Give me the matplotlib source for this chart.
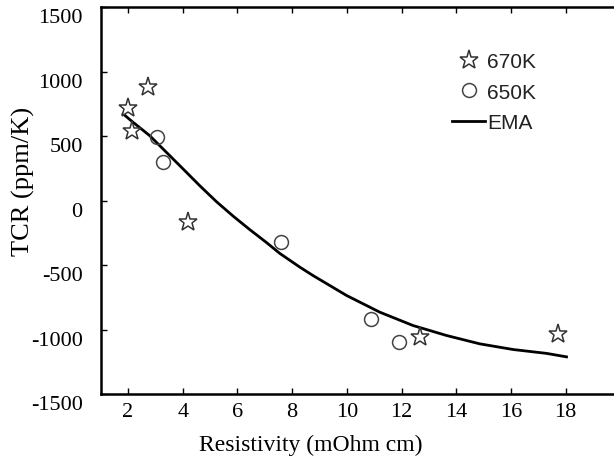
import matplotlib
matplotlib.use("Agg")
import matplotlib.pyplot as plt
import matplotlib.transforms as mtransforms

# 670K samples (stars)
rho_670 = [1.98, 2.15, 2.73, 4.18, 12.69, 17.72]
tcr_670 = [718, 538, 879, -167, -1059, -1033]

# 650K samples (circles)
rho_650 = [3.06, 3.26, 7.58, 10.87, 11.90]
tcr_650 = [496, 298, -322, -917, -1097]

# EMA model curve
rho_ema = [1.82, 2.18, 2.79, 3.40, 4.01, 4.62, 5.23, 5.84, 6.45, 7.06, 7.55,
           8.28, 8.76, 9.99, 11.20, 12.42, 13.64, 14.86, 16.08, 17.30, 18.03]
tcr_ema = [672, 608, 504, 375, 246, 116, -8, -120, -225, -325, -410,
           -516, -581, -736, -865, -969, -1046, -1111, -1155, -1185, -1212]

xticks = [2, 4, 6, 8, 10, 12, 14, 16, 18]
yticks = [-1500, -1000, -500, 0, 500, 1000, 1500]

serif = ["Liberation Serif", "DejaVu Serif"]
sans = ["Liberation Sans", "DejaVu Sans"]

fig = plt.figure(figsize=(6.14, 4.6), dpi=100)
# right spine falls just outside the picture, like in the cropped original
ax = fig.add_axes([0.164, 0.1413, 0.8464, 0.8409])

ax.plot(rho_670, tcr_670, linestyle="none", marker="*", markersize=14,
        markerfacecolor="white", markeredgecolor="#333333", markeredgewidth=1.1,
        label="670K", zorder=3)
ax.plot(rho_650, tcr_650, linestyle="none", marker="o", markersize=10,
        markerfacecolor="none", markeredgecolor="#444444", markeredgewidth=1.1,
        label="650K", zorder=3)
ax.plot(rho_ema, tcr_ema, color="black", linewidth=2.0, label="EMA", zorder=2)

ax.set_xlim(1, 20)
ax.set_ylim(-1500, 1500)
ax.set_xticks(xticks)
ax.set_yticks(yticks)
ax.set_xticklabels([str(t) for t in xticks], family=serif, fontsize=16)
ax.set_yticklabels([str(t) for t in yticks], family=serif, fontsize=16)

ax.tick_params(direction="in", length=4, width=1, top=True, right=True)
ax.tick_params(axis="x", pad=6)
ax.tick_params(axis="y", pad=13)

# y labels sit a little below their ticks in the original
shift = mtransforms.ScaledTranslation(0, -0.08, fig.dpi_scale_trans)
for lab in ax.get_yticklabels():
    lab.set_transform(lab.get_transform() + shift)

for sp in ax.spines.values():
    sp.set_linewidth(1.8)

ax.set_xlabel("Resistivity (mOhm cm)", family=serif, fontsize=17)
ax.set_ylabel("TCR (ppm/K)", family=serif, fontsize=19)
ax.xaxis.set_label_coords(0.404, -0.103)
ax.yaxis.set_label_coords(-0.126, 0.551)

leg = ax.legend(loc="upper left", bbox_to_anchor=(0.66, 0.905), frameon=False,
                prop={"family": sans, "size": 15}, handlelength=1.6,
                handletextpad=0.1, labelspacing=0.55, borderaxespad=0)
for t in leg.get_texts():
    t.set_color("#222222")

fig.savefig("out.png", dpi=100)
